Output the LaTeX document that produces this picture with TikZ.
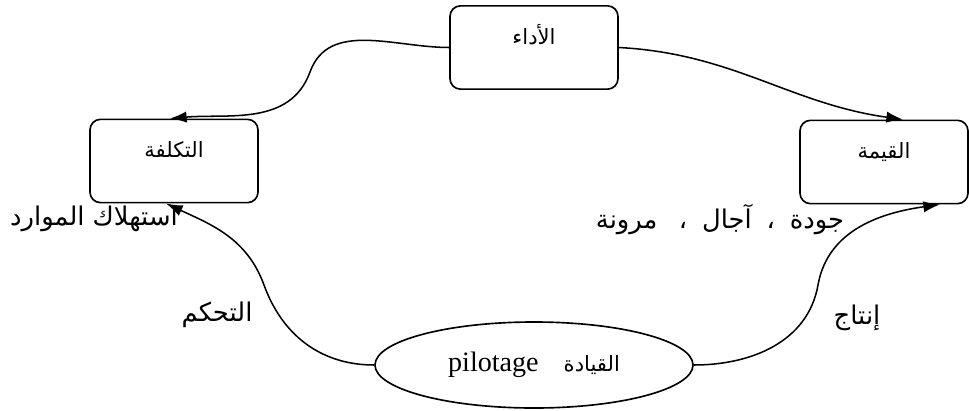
\documentclass[tikz,border=0pt]{standalone}
\usepackage{fontspec}
\setmainfont{Liberation Serif}
\newfontfamily\arabicfont[Script=Arabic]{DejaVu Sans}
\TeXXeTstate=1
\usetikzlibrary{arrows.meta, shapes.geometric}
\newcommand{\artext}[1]{\beginR #1\endR}
\tikzset{
  block/.style = {draw, line width=1.4pt, rounded corners=9pt, minimum width=5.04cm,
    inner sep=0.15cm, text height=1.0cm, text depth=1.2cm,
    font=\arabicfont\fontsize{18}{22}\selectfont},
  oval/.style = {draw, ellipse, line width=1.4pt, minimum width=9.54cm, minimum height=2.58cm, inner sep=0pt},
  link/.style = {line width=1.3pt, -{Latex[length=5mm,width=3.4mm]}},
  tag/.style = {font=\arabicfont\fontsize{22}{26}\selectfont, inner sep=0pt},
}

\begin{document}
\begin{tikzpicture}[x=0.03cm, y=0.03cm]
  \useasboundingbox (0,0) rectangle (969,-410);

  % boxes
  \node[block] (perf)  at (534,-47.5) {\artext{الأداء}};
  \node[block] (cost)  at (174,-161)  {\artext{التكلفة}};
  \node[block] (value) at (884,-162)  {\artext{القيمة}};
  \node[oval]  (lead)  at (534,-365)
    {\fontsize{24}{28}\selectfont pilotage\hspace{0.75cm}{\arabicfont\fontsize{18}{22}\selectfont\artext{القيادة}}};

  % bends of the curves
  \coordinate (bendA) at (310,-72);
  \coordinate (bendB) at (264,-285);
  \coordinate (bendC) at (818,-285);

  % links
  \draw[link] (perf.west) to[out=180,in=70] (bendA) to[out=-110,in=5] ([xshift=-0.12cm]cost.north);
  \draw[link] (perf.east) to[out=-3,in=172] ([xshift=0.57cm]value.north);
  \draw[link] (lead.west) to[out=180,in=-70] (bendB) to[out=110,in=-25] ([xshift=-0.24cm]cost.south);
  \draw[link] (lead.east) to[out=0,in=-100] (bendC) to[out=80,in=188] ([xshift=1.68cm]value.south);

  % labels
  \node[tag] (use)  at (94,-219)  {\artext{استهلاك الموارد}};
  \node[tag] (qual) at (720,-220) {\artext{جودة\hspace{0.2cm} ،\hspace{0.2cm} آجال\hspace{0.2cm} ،\hspace{0.4cm} مرونة}};
  \node[tag] (ctrl) at (217,-315) {\artext{التحكم}};
  \node[tag] (prod) at (857,-318) {\artext{إنتاج}};
\end{tikzpicture}
\end{document}
